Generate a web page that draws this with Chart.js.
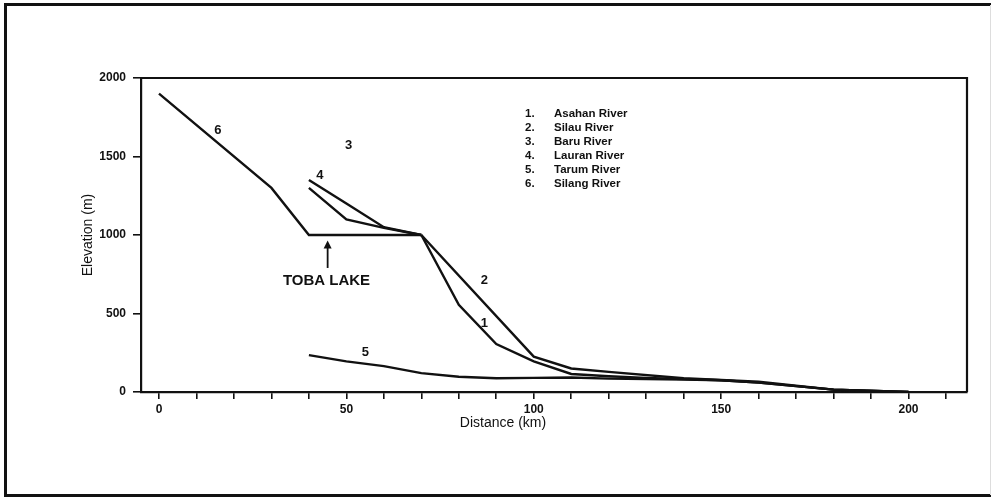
<!DOCTYPE html>
<html>
<head>
<meta charset="utf-8">
<script src="https://cdn.jsdelivr.net/npm/chart.js@4"></script>
<style>
  body { margin: 0; background: #fff; }
  canvas { display: block; }
</style>
</head>
<body>
<canvas id="chart" width="994" height="498"></canvas>
<script>
// river profiles: [distance km, elevation m]
const asahan = [[70, 1000], [80, 555], [90, 305], [100, 195], [110, 115], [120, 100], [130, 90], [150, 75], [160, 60], [180, 15], [200, 0]]
const silau = [[70, 1000], [100, 225], [110, 150], [120, 128], [140, 88], [150, 76], [160, 65], [180, 15], [200, 0]]
const baru = [[40, 1300], [50, 1100], [60, 1045], [70, 1000]]
const lauran = [[40, 1350], [50, 1200], [60, 1050], [70, 1000]]
const tarum = [[40, 235], [50, 195], [60, 165], [70, 120], [80, 97], [90, 88], [100, 90], [110, 92], [120, 85], [140, 80], [150, 75], [160, 60], [180, 15], [200, 0]]
const silang = [[0, 1900], [30, 1300], [40, 1000], [70, 1000]]

const riverNames = ['Asahan River', 'Silau River', 'Baru River', 'Lauran River', 'Tarum River', 'Silang River']
const xTicks = [0, 10, 20, 30, 40, 50, 60, 70, 80, 90, 100, 110, 120, 130, 140, 150, 160, 170, 180, 190, 200, 210]
const yTicks = [0, 500, 1000, 1500, 2000]

// curve numbers: [label, km, m]
const curveLabels = [['6', 15.7, 1669], ['3', 50.6, 1573], ['4', 42.9, 1382], ['2', 86.8, 713], ['1', 86.8, 439], ['5', 55.1, 255]]
const lakeArrow = { x: 45, from: 790, to: 965 }

const FONT = '"Liberation Sans", Arial, sans-serif'

const toPts = (arr) => arr.map(([x, y]) => ({ x, y }))

const line = (label, arr) => ({
  label,
  data: toPts(arr),
  borderColor: '#111',
  borderWidth: 2.4,
  pointRadius: 0,
  tension: 0,
  fill: false
})

const decorations = {
  id: 'decorations',
  beforeDraw(chart) {
    const ctx = chart.ctx
    ctx.save()
    ctx.fillStyle = '#fff'
    ctx.fillRect(0, 0, chart.width, chart.height)
    // outer frame
    ctx.strokeStyle = '#111'
    ctx.lineWidth = 3
    ctx.beginPath()
    ctx.moveTo(991, 4.5); ctx.lineTo(5.5, 4.5); ctx.lineTo(5.5, 495.5); ctx.lineTo(991, 495.5)
    ctx.stroke()
    ctx.strokeStyle = '#ddd'
    ctx.lineWidth = 1
    ctx.beginPath()
    ctx.moveTo(990.5, 5); ctx.lineTo(990.5, 495)
    ctx.stroke()
    ctx.restore()
  },
  afterDraw(chart) {
    const ctx = chart.ctx
    const { x, y } = chart.scales
    const a = chart.chartArea
    ctx.save()
    // top and right frame of plot
    ctx.strokeStyle = '#111'
    ctx.lineWidth = 2.2
    ctx.beginPath()
    ctx.moveTo(a.left, a.top); ctx.lineTo(a.right, a.top); ctx.lineTo(a.right, a.bottom)
    ctx.stroke()

    ctx.fillStyle = '#111'
    ctx.textAlign = 'center'
    ctx.textBaseline = 'middle'
    ctx.font = 'bold 13px ' + FONT
    curveLabels.forEach(([t, kx, ky]) => ctx.fillText(t, x.getPixelForValue(kx), y.getPixelForValue(ky)))

    // Toba lake arrow
    const ax = x.getPixelForValue(lakeArrow.x)
    const y0 = y.getPixelForValue(lakeArrow.from)
    const y1 = y.getPixelForValue(lakeArrow.to)
    ctx.lineWidth = 1.8
    ctx.beginPath()
    ctx.moveTo(ax, y0); ctx.lineTo(ax, y1 + 4)
    ctx.stroke()
    ctx.beginPath()
    ctx.moveTo(ax, y1); ctx.lineTo(ax - 4, y1 + 8); ctx.lineTo(ax + 4, y1 + 8); ctx.closePath()
    ctx.fill()
    ctx.font = 'bold 15px ' + FONT
    ctx.fillText('TOBA LAKE', x.getPixelForValue(44.7), y.getPixelForValue(705))

    // legend
    ctx.font = 'bold 11.5px ' + FONT
    ctx.textAlign = 'left'
    riverNames.forEach((n, i) => {
      const ly = 113.5 + i * 14.1
      ctx.fillText((i + 1) + '.', 525, ly)
      ctx.fillText(n, 554, ly)
    })

    // x title
    ctx.font = '14px ' + FONT
    ctx.textAlign = 'center'
    ctx.fillText('Distance (km)', 503, 423)
    ctx.restore()
  }
}

new Chart(document.getElementById('chart'), {
  type: 'line',
  data: {
    datasets: [
      line(riverNames[0], asahan),
      line(riverNames[1], silau),
      line(riverNames[2], baru),
      line(riverNames[3], lauran),
      line(riverNames[4], tarum),
      line(riverNames[5], silang)
    ]
  },
  options: {
    responsive: false,
    animation: false,
    layout: { padding: { left: 0, top: 78, right: 27, bottom: 0 } },
    plugins: { legend: { display: false }, tooltip: { enabled: false } },
    scales: {
      x: {
        type: 'linear',
        min: -4.8,
        max: 215.6,
        afterBuildTicks: (scale) => { scale.ticks = xTicks.map(v => ({ value: v })) },
        afterFit: (scale) => { scale.height = 106 },
        border: { display: true, color: '#111', width: 2.2 },
        grid: { drawOnChartArea: false, drawTicks: true, tickLength: 7, color: '#111', lineWidth: 1.6 },
        ticks: {
          autoSkip: false,
          maxRotation: 0,
          padding: 3,
          color: '#111',
          font: { family: FONT, size: 12, weight: 'bold' },
          callback: (v) => (v % 50 === 0 ? String(v) : '')
        }
      },
      y: {
        min: 0,
        max: 2000,
        afterBuildTicks: (scale) => { scale.ticks = yTicks.map(v => ({ value: v })) },
        afterFit: (scale) => { scale.width = 141 },
        border: { display: true, color: '#111', width: 2.2 },
        grid: { drawOnChartArea: false, drawTicks: true, tickLength: 8, color: '#111', lineWidth: 1.6 },
        ticks: {
          padding: 7,
          color: '#111',
          font: { family: FONT, size: 12, weight: 'bold' },
          callback: (v) => String(v)
        },
        title: {
          display: true,
          text: 'Elevation (m)',
          color: '#111',
          padding: { top: 80, bottom: 0 },
          font: { family: FONT, size: 14 }
        }
      }
    }
  },
  plugins: [decorations]
})
</script>
</body>
</html>
